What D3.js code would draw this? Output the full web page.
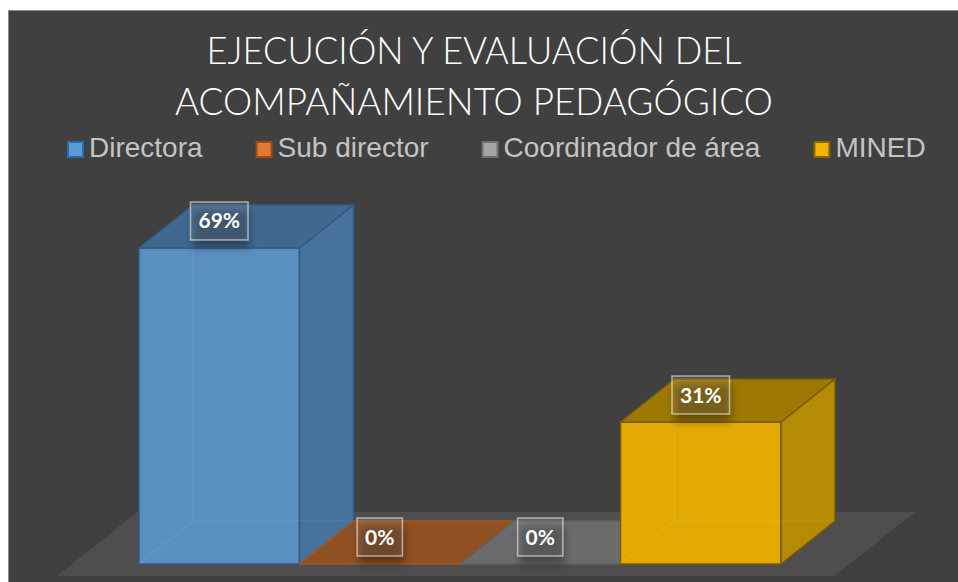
<!DOCTYPE html>
<html>
<head>
<meta charset="utf-8">
<script src="https://cdn.jsdelivr.net/npm/d3@7"></script>
<style>
  html, body { margin: 0; padding: 0; background: #ffffff; }
  svg { display: block; }
</style>
</head>
<body>
<svg id="chart" width="958" height="582"></svg>
<script>
// data
var categories = ["Directora", "Sub director", "Coordinador de área", "MINED"];
var values = [0.69, 0, 0, 0.31];
var labels = ["69%", "0%", "0%", "31%"];
var titleLines = ["EJECUCIÓN Y EVALUACIÓN DEL", "ACOMPAÑAMIENTO PEDAGÓGICO"];

// colours per series: front, side, top, edge, legend fill, legend edge
var palette = [
  { front: "#5a8fc0", side: "#46729b", top: "#41688f", edge: "#2f5d8a", key: "#5b9bd5", keyEdge: "#2e6aa3" },
  { front: "#a0541f", side: "#8a4a1e", top: "#8f5023", edge: "#a65a1f", key: "#e07a33", keyEdge: "#a04a14" },
  { front: "#7a7a7a", side: "#6e6e6e", top: "#6b6b6b", edge: "#616161", key: "#a5a5a5", keyEdge: "#6f6f6f" },
  { front: "#e3aa05", side: "#b58a04", top: "#9e7805", edge: "#7a5c00", key: "#f0b400", keyEdge: "#8a6600" }
];

var svg = d3.select("#chart");
var W = 958, H = 582;

// depth of the 3d bars
var dx = 54, dy = -43;

var x = d3.scaleBand().domain(categories).range([139, 781]).padding(0);
var y = d3.scaleLinear().domain([0, 1]).range([564, 106]);

var defs = svg.append("defs");
var f = defs.append("filter").attr("id", "shadow")
  .attr("x", "-50%").attr("y", "-50%").attr("width", "200%").attr("height", "220%");
f.append("feGaussianBlur").attr("in", "SourceAlpha").attr("stdDeviation", 4);
f.append("feOffset").attr("dx", 2).attr("dy", 8).attr("result", "b");
f.append("feComponentTransfer").append("feFuncA").attr("type", "linear").attr("slope", 0.35);

// chart area + border
svg.append("rect").attr("x", 8.5).attr("y", 10.5).attr("width", W).attr("height", H)
  .attr("fill", "#404040").attr("stroke", "#8a8a8a").attr("stroke-width", 1);

// title
var title = svg.append("g").attr("fill", "#ffffff")
  .style("font-family", "Lato, 'Open Sans', sans-serif").style("font-weight", "300").style("font-size", "38px");
var titleWidths = [535, 598];
title.selectAll("text").data(titleLines).join("text")
  .attr("x", 474)
  .attr("y", function (d, i) { return 64 + i * 51; })
  .attr("text-anchor", "middle")
  .attr("textLength", function (d, i) { return titleWidths[i]; })
  .attr("lengthAdjust", "spacingAndGlyphs")
  .text(function (d) { return d; });

// legend
var legend = svg.append("g").attr("class", "legend");
var lx = 67;
categories.forEach(function (c, i) {
  var item = legend.append("g").attr("transform", "translate(" + lx + ",0)");
  item.append("rect").attr("x", 1).attr("y", 142).attr("width", 15).attr("height", 15)
    .attr("fill", palette[i].key).attr("stroke", palette[i].keyEdge).attr("stroke-width", 2);
  var t = item.append("text").attr("x", 22).attr("y", 157)
    .attr("fill", "#c4c4c4")
    .style("font-family", "'Liberation Sans', Arial, sans-serif").style("font-size", "28px")
    .text(c);
  lx += 22 + t.node().getComputedTextLength() + 53;
});

// floor
var x0 = x.range()[0], x1 = x.range()[1];
var floorFront = 576, floorBack = 512;
var k = dx / -dy;
var floorPts = [
  [x0 - 82, floorFront],
  [x0 - 82 + (floorFront - floorBack) * k, floorBack],
  [x1 + 134, floorBack],
  [x1 + 134 - (floorFront - floorBack) * k, floorFront]
];
svg.append("polygon").attr("points", floorPts.map(function (p) { return p.join(","); }).join(" "))
  .attr("fill", "#4f4d4e");

// bars
var bars = svg.append("g").attr("class", "bars");
categories.forEach(function (c, i) {
  var col = palette[i];
  var bx0 = x(c), bx1 = bx0 + x.bandwidth();
  var yt = y(values[i]), yb = y(0);
  var g = bars.append("g");
  var pts = function (a) { return a.map(function (p) { return p.join(","); }).join(" "); };

  if (yb - yt > 0) {
    g.append("rect").attr("x", bx0).attr("y", yt).attr("width", bx1 - bx0).attr("height", yb - yt)
      .attr("fill", col.front).attr("stroke", col.edge).attr("stroke-width", 1.5);
    g.append("polygon")
      .attr("points", pts([[bx1, yt], [bx1 + dx, yt + dy], [bx1 + dx, yb + dy], [bx1, yb]]))
      .attr("fill", col.side).attr("stroke", col.edge).attr("stroke-width", 1.5);
    // hidden back edges, seen through the bar
    g.append("path")
      .attr("d", "M" + (bx0 + dx) + "," + (yt + dy) + "V" + (yb + dy) + "H" + (bx1 + dx) +
                 "M" + (bx0 + dx) + "," + (yb + dy) + "L" + bx0 + "," + yb)
      .attr("fill", "none").attr("stroke", "rgba(255,255,255,0.05)").attr("stroke-width", 2);
  }
  g.append("polygon")
    .attr("points", pts([[bx0, yt], [bx0 + dx, yt + dy], [bx1 + dx, yt + dy], [bx1, yt]]))
    .attr("fill", col.top).attr("stroke", col.edge).attr("stroke-width", 1.5)
    .attr("stroke-linejoin", "round");
});

// data labels
var lab = svg.append("g").attr("class", "labels");
categories.forEach(function (c, i) {
  var cx = x(c) + x.bandwidth() / 2;
  var cy = y(values[i]) - 27;
  var g = lab.append("g").attr("transform", "translate(" + cx + "," + cy + ")");
  var box = g.append("rect");
  var t = g.append("text").attr("text-anchor", "middle").attr("y", 7.5)
    .attr("fill", "#ffffff")
    .style("font-family", "Lato, 'Open Sans', sans-serif").style("font-weight", "bold").style("font-size", "21px")
    .text(labels[i]);
  var w = t.node().getComputedTextLength() + 16;
  g.insert("rect", "rect").attr("x", -w / 2).attr("y", -19).attr("width", w).attr("height", 38)
    .attr("fill", "#000").attr("filter", "url(#shadow)");
  box.attr("x", -w / 2).attr("y", -19).attr("width", w).attr("height", 38)
    .attr("fill", "rgba(255,255,255,0.1)").attr("stroke", "rgba(255,255,255,0.55)").attr("stroke-width", 1.5);
});
</script>
</body>
</html>
